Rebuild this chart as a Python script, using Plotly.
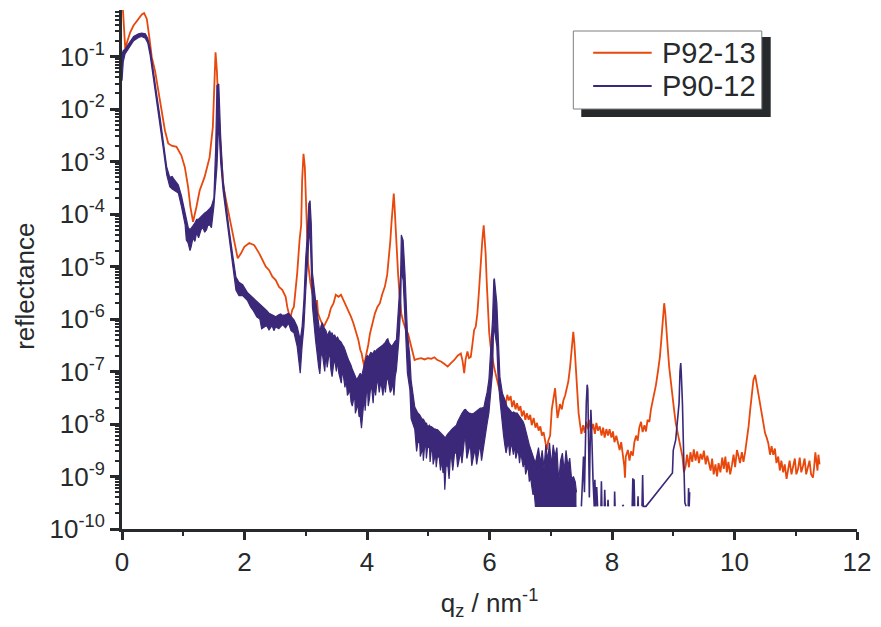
import plotly.graph_objects as go

# ---------------- data ----------------
# P92-13 : q_z [1/nm] and reflectance
p92_q = [0.010, 0.035, 0.053, 0.090, 0.134, 0.188, 0.230, 0.270, 0.324, 0.361, 0.405, 0.447, 0.486, 0.539,
         0.593, 0.648, 0.701, 0.755, 0.810, 0.890, 0.970, 1.025, 1.079, 1.117, 1.160, 1.215, 1.268, 1.349,
         1.430, 1.483, 1.511, 1.527, 1.549, 1.580, 1.620, 1.657, 1.700, 1.754, 1.807, 1.862, 1.889, 1.943,
         1.997, 2.078, 2.159, 2.240, 2.300, 2.348, 2.402, 2.455, 2.510, 2.564, 2.617, 2.672, 2.698, 2.730,
         2.753, 2.780, 2.806, 2.860, 2.899, 2.925, 2.941, 2.963, 2.985, 3.006, 3.038, 3.077, 3.130, 3.170,
         3.184, 3.200, 3.239, 3.292, 3.330, 3.373, 3.410, 3.454, 3.490, 3.535, 3.575, 3.616, 3.655, 3.697,
         3.740, 3.778, 3.820, 3.859, 3.890, 3.913, 3.935, 3.956, 3.975, 3.994, 4.020, 4.049, 4.090, 4.130,
         4.170, 4.210, 4.250, 4.291, 4.330, 4.356, 4.380, 4.399, 4.420, 4.437, 4.450, 4.463, 4.485, 4.507,
         4.530, 4.560, 4.590, 4.615, 4.640, 4.669, 4.695, 4.722, 4.750, 4.777, 4.830, 4.884, 4.940, 4.993,
         5.050, 5.100, 5.150, 5.208, 5.260, 5.317, 5.370, 5.425, 5.480, 5.532, 5.560, 5.587, 5.610, 5.640,
         5.665, 5.694, 5.720, 5.749, 5.775, 5.802, 5.825, 5.846, 5.865, 5.883, 5.905, 5.920, 5.937, 5.955,
         5.976, 5.995, 6.018, 6.045, 6.073, 6.100, 6.126, 6.150, 6.180, 6.210, 6.235, 6.260, 6.290, 6.316,
         6.345, 6.370, 6.397, 6.425, 6.450, 6.478, 6.505, 6.530, 6.559, 6.585, 6.610, 6.640, 6.665, 6.690,
         6.721, 6.750, 6.775, 6.802, 6.830, 6.855, 6.883, 6.910, 6.936, 6.960, 6.990, 7.017, 7.045, 7.071,
         7.090, 7.110, 7.126, 7.150, 7.180, 7.206, 7.235, 7.260, 7.287, 7.315, 7.341, 7.368, 7.385, 7.400,
         7.415, 7.433, 7.455, 7.476, 7.500, 7.530, 7.555, 7.580, 7.611, 7.635, 7.660, 7.692, 7.720, 7.745,
         7.770, 7.800, 7.830, 7.855, 7.880, 7.908, 7.935, 7.960, 7.990, 8.016, 8.040, 8.070, 8.097, 8.125,
         8.150, 8.178, 8.200, 8.212, 8.225, 8.259, 8.285, 8.310, 8.340, 8.365, 8.393, 8.420, 8.445, 8.474,
         8.500, 8.530, 8.555, 8.580, 8.610, 8.636, 8.660, 8.690, 8.717, 8.750, 8.782, 8.805, 8.826, 8.852,
         8.870, 8.890, 8.910, 8.933, 8.960, 8.988, 9.015, 9.041, 9.070, 9.106, 9.130, 9.150, 9.175, 9.203,
         9.225, 9.257, 9.280, 9.310, 9.335, 9.365, 9.390, 9.420, 9.445, 9.474, 9.500, 9.530, 9.555, 9.581,
         9.610, 9.635, 9.660, 9.689, 9.715, 9.740, 9.770, 9.800, 9.825, 9.851, 9.875, 9.900, 9.930, 9.960,
         9.985, 10.010, 10.040, 10.067, 10.090, 10.120, 10.147, 10.175, 10.202, 10.230, 10.256, 10.285,
         10.309, 10.337, 10.360, 10.380, 10.410, 10.445, 10.470, 10.499, 10.525, 10.552, 10.580, 10.605,
         10.633, 10.660, 10.685, 10.714, 10.740, 10.765, 10.795, 10.820, 10.850, 10.876, 10.900, 10.930,
         10.957, 10.985, 11.010, 11.038, 11.065, 11.090, 11.119, 11.145, 11.170, 11.200, 11.225, 11.250,
         11.281, 11.300, 11.320, 11.336, 11.355, 11.370, 11.389]
p92_r = [1.0, 0.30, 0.14, 0.20, 0.29, 0.39, 0.45, 0.52, 0.63, 0.67, 0.52, 0.23, 0.097, 0.054,
         0.0226, 0.0094, 0.0039, 0.0022, 0.0020, 0.0019, 0.0013, 7.9e-4, 3.3e-4, 1.36e-4, 7.1e-5, 1.36e-4, 2.8e-4, 5.1e-4,
         1.2e-3, 4.5e-3, 0.030, 0.12, 0.054, 0.0071, 1.2e-3, 3.3e-4, 1.8e-4, 8.8e-5, 4.3e-5, 2.0e-5, 1.43e-5, 1.78e-5,
         2.37e-5, 2.8e-5, 2.55e-5, 1.78e-5, 1.3e-5, 9.9e-6, 8.5e-6, 6.4e-6, 5.5e-6, 4.1e-6, 3.6e-6, 2.65e-6, 1.7e-6, 1.2e-6,
         1.1e-6, 1.5e-6, 1.7e-6, 7.4e-6, 3.2e-5, 6.1e-5, 4.4e-4, 1.4e-3, 7.9e-4, 1.02e-4, 1.15e-5, 4.8e-6, 2.3e-6, 9.5e-7,
         2.3e-6, 1.3e-6, 9.6e-7, 7.1e-7, 8.5e-7, 1.1e-6, 1.6e-6, 2.0e-6, 2.9e-6, 2.65e-6, 2.9e-6, 2.3e-6, 1.9e-6, 1.48e-6,
         1.1e-6, 8.3e-7, 5.5e-7, 4.0e-7, 2.6e-7, 2.2e-7, 1.6e-7, 1.24e-7, 1.8e-7, 2.2e-7, 3.2e-7, 5.3e-7, 8.5e-7, 1.28e-6,
         1.7e-6, 2.0e-6, 3.0e-6, 4.1e-6, 7.0e-6, 1.3e-5, 3.0e-5, 6.6e-5, 1.5e-4, 2.45e-4, 1.4e-4, 6.6e-5, 2.2e-5, 7.4e-6,
         3.0e-6, 1.28e-6, 9.0e-7, 7.1e-7, 6.0e-7, 5.3e-7, 4.0e-7, 3.0e-7, 2.2e-7, 1.66e-7, 1.75e-7, 1.8e-7, 1.7e-7, 1.8e-7,
         1.75e-7, 1.87e-7, 1.65e-7, 1.55e-7, 1.4e-7, 1.24e-7, 1.45e-7, 1.66e-7, 2.0e-7, 2.2e-7, 1.6e-7, 9.3e-8, 1.7e-7, 2.4e-7,
         1.8e-7, 1.9e-7, 3.2e-7, 6.2e-7, 7.1e-7, 1.28e-6, 3.0e-6, 8.5e-6, 1.6e-5, 3.2e-5, 6.1e-5, 3.5e-5, 1.78e-5, 5.0e-6,
         1.28e-6, 5.5e-7, 3.0e-7, 1.8e-7, 1.24e-7, 9.0e-8, 6.9e-8, 5.0e-8, 3.9e-8, 2.6e-8, 3.2e-8, 2.2e-8, 3.6e-8, 2.8e-8,
         3.4e-8, 2.1e-8, 2.8e-8, 1.9e-8, 2.5e-8, 1.8e-8, 2.2e-8, 1.4e-8, 1.8e-8, 1.2e-8, 1.6e-8, 1.2e-8, 1.5e-8, 9.5e-9,
         1.3e-8, 8.5e-9, 1.05e-8, 7.5e-9, 9.0e-9, 6.0e-9, 7.0e-9, 4.5e-9, 3.2e-9, 4.8e-9, 6.0e-9, 1.9e-8, 3.0e-8, 4.8e-8,
         2.5e-8, 1.3e-8, 1.6e-8, 2.4e-8, 1.9e-8, 2.8e-8, 3.5e-8, 4.5e-8, 6.5e-8, 1.2e-7, 2.6e-7, 5.7e-7, 3.5e-7, 1.8e-7,
         7.0e-8, 2.9e-8, 1.6e-8, 1.04e-8, 6.5e-9, 9.5e-9, 6.8e-9, 1.1e-8, 8.0e-9, 1.2e-8, 7.5e-9, 1.0e-8, 6.5e-9, 1.05e-8,
         7.5e-9, 9.0e-9, 6.0e-9, 8.5e-9, 5.5e-9, 8.0e-9, 6.0e-9, 8.0e-9, 5.5e-9, 7.2e-9, 4.5e-9, 6.0e-9, 4.2e-9, 3.2e-9,
         4.5e-9, 2.8e-9, 1.6e-9, 9.5e-10, 2.4e-9, 3.2e-9, 2.0e-9, 3.0e-9, 2.5e-9, 4.5e-9, 6.0e-9, 4.8e-9, 8.5e-9, 1.1e-8,
         7.0e-9, 9.5e-9, 7.2e-9, 1.2e-8, 1.1e-8, 1.9e-8, 2.6e-8, 3.8e-8, 5.5e-8, 1.0e-7, 1.9e-7, 4.0e-7, 9.6e-7, 2.0e-6,
         1.3e-6, 7.1e-7, 2.8e-7, 1.24e-7, 6.0e-8, 3.3e-8, 1.8e-8, 1.04e-8, 7.0e-9, 5.0e-9, 3.2e-9, 2.4e-9, 1.2e-9, 1.6e-9,
         2.6e-9, 1.5e-9, 2.9e-9, 1.9e-9, 3.3e-9, 2.0e-9, 3.0e-9, 1.8e-9, 2.7e-9, 2.1e-9, 3.1e-9, 1.7e-9, 2.5e-9, 1.9e-9,
         1.3e-9, 2.2e-9, 1.1e-9, 1.7e-9, 1.0e-9, 1.8e-9, 1.2e-9, 2.3e-9, 1.4e-9, 2.4e-9, 1.2e-9, 1.9e-9, 1.1e-9, 1.7e-9,
         2.6e-9, 1.5e-9, 3.2e-9, 2.4e-9, 1.8e-9, 2.9e-9, 1.9e-9, 3.0e-9, 5.0e-9, 9.0e-9, 1.86e-8, 4.0e-8,
         6.9e-8, 8.6e-8, 6.0e-8, 3.9e-8, 2.3e-8, 1.39e-8, 9.5e-9, 6.7e-9, 5.5e-9, 4.3e-9, 2.6e-9, 3.8e-9,
         2.6e-9, 3.4e-9, 1.8e-9, 2.4e-9, 1.3e-9, 2.0e-9, 1.2e-9, 1.7e-9, 9.0e-10, 1.3e-9, 2.0e-9, 1.1e-9,
         1.7e-9, 2.2e-9, 1.1e-9, 1.4e-9, 2.3e-9, 1.2e-9, 1.6e-9, 2.2e-9, 1.1e-9, 1.5e-9, 2.0e-9, 1.1e-9,
         9.5e-10, 1.5e-9, 2.9e-9, 2.0e-9, 1.3e-9, 2.6e-9, 1.7e-9]

# P90-12 : noisy signal, given as upper and lower envelope of its noise band
p90_q = [0.000, 0.020, 0.050, 0.130, 0.190, 0.270, 0.320, 0.380, 0.420, 0.460,
         0.520, 0.570, 0.620, 0.670, 0.730, 0.780, 0.820, 0.860, 0.920, 0.970,
         1.030, 1.050, 1.080, 1.110, 1.130, 1.160, 1.190, 1.220, 1.250, 1.270,
         1.290, 1.320, 1.350, 1.380, 1.400, 1.430, 1.460, 1.500, 1.530, 1.550,
         1.580, 1.610, 1.650, 1.700, 1.750, 1.810, 1.860, 1.910, 1.970, 2.050,
         2.100, 2.150, 2.200, 2.250, 2.280, 2.330, 2.360, 2.400, 2.450, 2.480,
         2.510, 2.560, 2.590, 2.620, 2.670, 2.720, 2.760, 2.810, 2.860, 2.910,
         2.940, 2.970, 3.000, 3.020, 3.050, 3.070, 3.090, 3.110, 3.160, 3.190,
         3.210, 3.230, 3.250, 3.270, 3.290, 3.310, 3.330, 3.350, 3.370, 3.390,
         3.410, 3.430, 3.450, 3.470, 3.500, 3.520, 3.540, 3.560, 3.580, 3.600,
         3.620, 3.640, 3.660, 3.680, 3.700, 3.720, 3.740, 3.760, 3.780, 3.800,
         3.810, 3.830, 3.850, 3.870, 3.890, 3.910, 3.920, 3.940, 3.960, 3.970,
         3.990, 4.010, 4.020, 4.040, 4.060, 4.080, 4.100, 4.120, 4.140, 4.160,
         4.180, 4.200, 4.220, 4.240, 4.260, 4.280, 4.300, 4.320, 4.340, 4.360,
         4.380, 4.400, 4.420, 4.440, 4.460, 4.480, 4.520, 4.550, 4.560, 4.580,
         4.590, 4.620, 4.660, 4.700, 4.720, 4.780, 4.800, 4.810, 4.830, 4.860,
         4.870, 4.890, 4.910, 4.920, 4.940, 4.960, 4.970, 4.990, 5.020, 5.030,
         5.050, 5.070, 5.080, 5.100, 5.120, 5.130, 5.150, 5.180, 5.200, 5.220,
         5.240, 5.260, 5.270, 5.290, 5.320, 5.340, 5.360, 5.380, 5.400, 5.430,
         5.460, 5.480, 5.510, 5.530, 5.550, 5.590, 5.610, 5.630, 5.670, 5.690,
         5.710, 5.750, 5.770, 5.790, 5.830, 5.850, 5.870, 5.910, 5.930, 5.960,
         5.990, 6.020, 6.050, 6.070, 6.080, 6.120, 6.140, 6.170, 6.210, 6.230,
         6.250, 6.270, 6.290, 6.310, 6.330, 6.350, 6.370, 6.390, 6.410, 6.430,
         6.450, 6.470, 6.490, 6.510, 6.530, 6.550, 6.570, 6.590, 6.610, 6.630,
         6.650, 6.670, 6.690, 6.710, 6.730, 6.750, 6.770, 6.800, 6.830, 6.860,
         6.890, 6.920, 6.950, 6.980, 7.010, 7.040, 7.070, 7.100, 7.130, 7.160,
         7.190, 7.220, 7.250, 7.280, 7.310, 7.340, 7.370, 7.400, 7.420]
p90_upper = [0.112, 0.129, 0.138, 0.19, 0.24, 0.27, 0.28, 0.27, 0.224, 0.141,
             0.050, 0.0178, 7.1e-3, 2.6e-3, 7.9e-4, 5.0e-4, 5.2e-4, 4.4e-4, 3.55e-4, 2.24e-4,
             1.12e-4, 8.0e-5, 5.6e-5, 5.0e-5, 5.5e-5, 6.0e-5, 6.8e-5, 7.9e-5, 8.0e-5, 8.5e-5,
             9.0e-5, 1.0e-4, 1.05e-4, 1.1e-4, 1.15e-4, 1.26e-4, 1.4e-4, 2.0e-4, 1.9e-3, 0.028,
             0.030, 3.16e-3, 4.5e-4, 1.41e-4, 5.0e-5, 1.58e-5, 6.3e-6, 5.0e-6, 4.5e-6, 3.16e-6,
             2.8e-6, 2.5e-6, 2.2e-6, 2.0e-6, 1.8e-6, 1.58e-6, 1.45e-6, 1.29e-6, 1.2e-6, 1.15e-6,
             1.1e-6, 1.2e-6, 1.25e-6, 1.17e-6, 1.2e-6, 1.29e-6, 1.1e-6, 9.5e-7, 7.1e-7, 4.0e-7,
             7.1e-7, 2.3e-6, 1.5e-5, 3.16e-5, 1.58e-4, 1.8e-4, 6.6e-5, 7.4e-6, 2.3e-6, 1.2e-6,
             7.1e-7, 5.5e-7, 7.5e-7, 8.5e-7, 7.1e-7, 6.5e-7, 6.0e-7, 4.8e-7, 5.4e-7, 6.0e-7,
             5.0e-7, 5.5e-7, 4.6e-7, 5.0e-7, 4.2e-7, 4.5e-7, 4.0e-7, 3.8e-7, 3.6e-7, 3.2e-7,
             3.0e-7, 2.6e-7, 2.3e-7, 1.9e-7, 1.66e-7, 1.5e-7, 1.3e-7, 1.1e-7, 9.3e-8, 8.5e-8,
             8.0e-8, 6.9e-8, 7.5e-8, 8.5e-8, 9.3e-8, 7.9e-8, 9.0e-8, 1.23e-7, 1.5e-7, 1.6e-7,
             1.9e-7, 2.0e-7, 1.8e-7, 2.0e-7, 2.3e-7, 2.24e-7, 2.2e-7, 2.5e-7, 2.4e-7, 2.6e-7,
             2.7e-7, 2.8e-7, 2.9e-7, 3.0e-7, 3.2e-7, 3.4e-7, 3.6e-7, 4.0e-7, 4.2e-7, 3.5e-7,
             3.2e-7, 3.0e-7, 3.2e-7, 3.6e-7, 3.8e-7, 4.0e-7, 2.3e-6, 7.4e-6, 4.0e-5, 3.55e-5,
             3.16e-5, 7.4e-6, 5.4e-7, 1.9e-7, 6.9e-8, 2.1e-8, 1.9e-8, 1.8e-8, 1.62e-8, 1.5e-8,
             1.4e-8, 1.3e-8, 1.2e-8, 1.25e-8, 1.12e-8, 1.0e-8, 1.05e-8, 8.9e-9, 9.5e-9, 9.0e-9,
             8.9e-9, 8.5e-9, 8.2e-9, 8.0e-9, 8.0e-9, 7.8e-9, 7.8e-9, 7.2e-9, 7.0e-9, 6.5e-9,
             6.2e-9, 5.8e-9, 5.0e-9, 5.8e-9, 6.5e-9, 7.0e-9, 7.5e-9, 7.8e-9, 8.2e-9, 8.9e-9,
             9.5e-9, 1.1e-8, 1.3e-8, 1.4e-8, 1.6e-8, 1.86e-8, 1.9e-8, 1.75e-8, 1.6e-8, 1.6e-8,
             1.55e-8, 1.62e-8, 1.7e-8, 1.8e-8, 1.9e-8, 2.0e-8, 2.0e-8, 2.1e-8, 2.8e-8, 4.0e-8,
             6.9e-8, 2.24e-7, 1.0e-6, 5.5e-6, 5.9e-6, 2.0e-6, 6.2e-7, 7.9e-8, 3.9e-8, 3.3e-8,
             2.8e-8, 2.5e-8, 2.1e-8, 2.0e-8, 1.9e-8, 1.75e-8, 1.62e-8, 1.7e-8, 1.65e-8, 1.6e-8,
             1.62e-8, 1.5e-8, 1.4e-8, 1.3e-8, 1.2e-8, 1.1e-8, 9.5e-9, 7.5e-9, 5.8e-9, 5.0e-9,
             4.0e-9, 3.4e-9, 2.8e-9, 2.4e-9, 2.1e-9, 1.82e-9, 2.4e-9, 3.55e-9, 1.78e-9, 3.16e-9,
             1.41e-9, 4.0e-9, 2.0e-9, 4.4e-9, 1.58e-9, 4.0e-9, 2.4e-9, 3.55e-9, 7.9e-10, 2.0e-9,
             2.8e-9, 1.26e-9, 3.16e-9, 1.58e-9, 2.24e-9, 8.9e-10, 1.0e-9, 7.9e-10, 5.0e-10]
p90_lower = [0.0347, 0.079, 0.112, 0.158, 0.20, 0.23, 0.24, 0.224, 0.182, 0.105,
             0.0355, 0.0126, 5.2e-3, 1.9e-3, 5.6e-4, 3.3e-4, 3.0e-4, 2.8e-4, 2.5e-4, 1.41e-4,
             6.3e-5, 3.2e-5, 2.8e-5, 2.0e-5, 2.4e-5, 3.55e-5, 3.0e-5, 4.5e-5, 3.5e-5, 4.2e-5,
             5.0e-5, 5.6e-5, 4.5e-5, 5.0e-5, 6.0e-5, 6.3e-5, 5.5e-5, 1.41e-4, 4.0e-4, 7.9e-4,
             6.3e-3, 1.0e-3, 2.8e-4, 1.0e-4, 3.55e-5, 1.0e-5, 3.55e-6, 2.8e-6, 2.8e-6, 2.24e-6,
             1.7e-6, 1.41e-6, 1.1e-6, 1.0e-6, 6.5e-7, 7.1e-7, 7.5e-7, 6.2e-7, 7.5e-7, 6.0e-7,
             7.1e-7, 6.5e-7, 7.2e-7, 7.8e-7, 6.8e-7, 8.3e-7, 6.0e-7, 5.4e-7, 3.0e-7, 9.3e-8,
             3.0e-7, 7.1e-7, 3.55e-6, 1.0e-5, 3.16e-5, 5.0e-5, 5.5e-6, 1.7e-6, 4.0e-7, 1.6e-7,
             1.23e-7, 9.0e-8, 2.0e-7, 2.2e-7, 1.41e-7, 1.0e-7, 2.2e-7, 1.2e-7, 1.78e-7, 2.5e-7,
             1.1e-7, 8.0e-8, 1.23e-7, 1.8e-7, 1.0e-7, 1.6e-7, 9.3e-8, 7.5e-8, 6.0e-8, 1.1e-7,
             6.9e-8, 5.0e-8, 7.0e-8, 3.5e-8, 3.9e-8, 4.5e-8, 2.6e-8, 2.2e-8, 2.9e-8, 3.2e-8,
             1.6e-8, 2.0e-8, 2.4e-8, 1.4e-8, 1.38e-8, 8.3e-9, 1.2e-8, 2.1e-8, 3.0e-8, 1.8e-8,
             3.9e-8, 4.5e-8, 2.2e-8, 3.0e-8, 5.0e-8, 4.5e-8, 2.5e-8, 5.5e-8, 3.5e-8, 6.0e-8,
             6.5e-8, 4.0e-8, 6.0e-8, 5.1e-8, 3.5e-8, 6.5e-8, 4.0e-8, 6.9e-8, 7.5e-8, 5.0e-8,
             4.0e-8, 4.5e-8, 6.5e-8, 3.5e-8, 8.0e-8, 1.07e-7, 4.0e-7, 1.7e-6, 1.0e-5, 6.3e-6,
             5.5e-6, 1.0e-6, 9.3e-8, 4.5e-8, 1.26e-8, 7.9e-9, 5.0e-9, 3.0e-9, 4.4e-9, 4.5e-9,
             2.4e-9, 3.0e-9, 3.5e-9, 2.0e-9, 3.7e-9, 3.8e-9, 2.2e-9, 3.7e-9, 3.5e-9, 1.9e-9,
             3.16e-9, 3.0e-9, 1.7e-9, 2.2e-9, 2.6e-9, 1.5e-9, 2.4e-9, 2.3e-9, 1.3e-9, 2.1e-9,
             1.2e-9, 1.17e-9, 5.6e-10, 1.58e-9, 1.6e-9, 9.0e-10, 2.2e-9, 2.3e-9, 1.3e-9, 2.8e-9,
             2.8e-9, 1.5e-9, 2.5e-9, 3.0e-9, 1.8e-9, 5.0e-9, 5.0e-9, 2.2e-9, 3.5e-9, 3.6e-9,
             1.6e-9, 2.8e-9, 3.0e-9, 1.7e-9, 3.3e-9, 3.6e-9, 2.0e-9, 4.4e-9, 6.0e-9, 1.0e-8,
             1.62e-8, 5.1e-8, 1.0e-7, 9.5e-7, 6.3e-7, 3.0e-7, 7.9e-8, 2.9e-8, 8.9e-9, 6.0e-9,
             4.0e-9, 2.8e-9, 3.7e-9, 4.5e-9, 2.5e-9, 4.0e-9, 3.7e-9, 2.6e-9, 4.0e-9, 2.2e-9,
             2.8e-9, 3.2e-9, 1.8e-9, 2.8e-9, 2.1e-9, 1.5e-9, 2.2e-9, 1.1e-9, 1.35e-9, 1.5e-9,
             8.0e-10, 1.0e-9, 6.5e-10, 4.5e-10, 5.0e-10, 2.7e-10, 2.7e-10, 2.7e-10, 2.7e-10, 2.7e-10,
             2.7e-10, 2.7e-10, 2.7e-10, 2.7e-10, 2.7e-10, 2.7e-10, 2.7e-10, 2.7e-10, 2.7e-10, 2.7e-10,
             2.7e-10, 2.7e-10, 2.7e-10, 2.7e-10, 2.7e-10, 2.7e-10, 2.7e-10, 2.7e-10, 2.7e-10]

# P90-12 beyond q = 7.45: sparse points (None = no data)
p90_tail_q = [7.500, 7.520, 7.535, 7.550, 7.565, 7.580, 7.595, 7.605, 7.615, 7.630, 7.640, 7.655, 7.665, 7.675,
              7.690, 7.710, 7.720, 7.735, 7.750, 7.765, None,
              7.820, 7.827, 7.835, None, 7.875, 7.881, 7.890, None, 7.930, 7.935, 7.940, None,
              8.040, 8.043, 8.050, None, 8.170, 8.190, None,
              8.330, 8.340, 8.350, 8.360, 8.370, None, 8.420, 8.425, 8.430, None,
              8.490, 8.500, 8.510, 8.555, 8.987, 9.000, 9.040, 9.070, 9.095, 9.110, 9.122, 9.130, 9.150,
              9.170, 9.190, 9.210, None, 9.245, 9.250, 9.260, 9.268]
p90_tail_r = [2.7e-10, 1.26e-9, 2.4e-9, 5.0e-10, 5.0e-9, 2.5e-8, 5.6e-8, 4.5e-8, 7.9e-9, 4.0e-10, 2.5e-9, 1.86e-8, 1.0e-8, 1.58e-9,
              8.7e-10, 2.7e-10, 8.7e-10, 2.7e-10, 6.3e-10, 2.7e-10, None,
              2.7e-10, 8.1e-10, 2.7e-10, None, 2.7e-10, 5.6e-10, 2.7e-10, None, 2.7e-10, 3.6e-10, 2.7e-10, None,
              2.7e-10, 5.2e-10, 2.7e-10, None, 2.7e-10, 2.9e-10, None,
              2.7e-10, 9.3e-10, 2.7e-10, 8.9e-10, 2.7e-10, None, 2.7e-10, 4.2e-10, 2.7e-10, None,
              2.7e-10, 1.07e-9, 2.7e-10, 2.7e-10, 1.17e-9, 3.16e-9, 5.0e-9, 1.26e-8, 2.5e-8, 1.0e-7, 1.45e-7, 1.0e-7, 2.5e-8,
              2.5e-9, 3.16e-10, 2.7e-10, None, 2.7e-10, 6.0e-10, 2.7e-10, 5.0e-10]

series_names = ["P92-13", "P90-12"]
x_tick_vals = [0, 2, 4, 6, 8, 10, 12]
y_exponents = [-1, -2, -3, -4, -5, -6, -7, -8, -9, -10]

assert len(p92_q) == len(p92_r)
assert len(p90_q) == len(p90_upper) == len(p90_lower)
assert len(p90_tail_q) == len(p90_tail_r)

# ---------------- style ----------------
ORANGE = "#E8480C"
PURPLE = "#3B2878"
AX = "#262A2C"
FONT = "Liberation Sans, Arial, Helvetica, sans-serif"

fig = go.Figure()

fig.add_trace(go.Scatter(x=p92_q, y=p92_r, mode="lines", name=series_names[0],
                         line=dict(color=ORANGE, width=1.8), showlegend=False))
fig.add_trace(go.Scatter(x=p90_q, y=p90_lower, mode="lines", name=series_names[1],
                         line=dict(color=PURPLE, width=1.2), showlegend=False))
fig.add_trace(go.Scatter(x=p90_q, y=p90_upper, mode="lines", name=series_names[1],
                         line=dict(color=PURPLE, width=1.2), fill="tonexty", fillcolor=PURPLE,
                         showlegend=False))
fig.add_trace(go.Scatter(x=p90_tail_q, y=p90_tail_r, mode="lines", name=series_names[1],
                         line=dict(color=PURPLE, width=1.6), connectgaps=False, showlegend=False))

# geometry of plot area (pixels)
W, H = 881, 627
ML, MR, MT, MB = 122, 18, 10, 98
PW, PH = W - ML - MR, H - MT - MB


def px(xp):
    return (xp - ML) / PW


def py(yp):
    return 1 - (yp - MT) / PH


minor_y = [m * 10.0 ** e for e in range(-10, 0) for m in range(2, 10)]

fig.update_layout(
    width=W, height=H,
    margin=dict(l=ML, r=MR, t=MT, b=MB),
    paper_bgcolor="white", plot_bgcolor="white",
    font=dict(family=FONT, size=26, color=AX),
    xaxis=dict(
        range=[0, 12], showgrid=False, zeroline=False,
        showline=True, linecolor=AX, linewidth=3,
        tickmode="array", tickvals=x_tick_vals, ticktext=[str(v) for v in x_tick_vals],
        ticks="outside", ticklen=8, tickwidth=3, tickcolor=AX,
        tickfont=dict(family=FONT, size=26, color=AX),
        minor=dict(dtick=1, tick0=0, ticks="outside", ticklen=4, tickwidth=2, tickcolor=AX),
        title=dict(text="q<sub>z</sub> / nm<sup>-1</sup>", font=dict(family=FONT, size=26, color=AX), standoff=18),
    ),
    yaxis=dict(
        type="log", range=[-10, -0.114], showgrid=False, zeroline=False,
        showline=True, linecolor=AX, linewidth=3,
        tickmode="array", tickvals=[10.0 ** e for e in y_exponents],
        ticktext=["10<sup>%d</sup>" % e for e in y_exponents],
        ticks="outside", ticklen=9, tickwidth=3, tickcolor=AX,
        tickfont=dict(family=FONT, size=26, color=AX),
        minor=dict(tickvals=minor_y, ticks="outside", ticklen=4, tickwidth=2, tickcolor=AX),
    ),
)

# y axis title
fig.add_annotation(text="reflectance", xref="paper", yref="paper", x=px(24), y=py(286),
                   textangle=-90, showarrow=False, xanchor="center", yanchor="middle",
                   font=dict(family=FONT, size=26, color=AX))

# legend (box with drop shadow)
fig.add_shape(type="rect", xref="paper", yref="paper", x0=px(585), x1=px(776), y0=py(117), y1=py(37),
              fillcolor=AX, line=dict(width=0))
fig.add_shape(type="rect", xref="paper", yref="paper", x0=px(577), x1=px(767), y0=py(109), y1=py(31),
              fillcolor="white", line=dict(color="#7F7F7F", width=1))
fig.add_shape(type="line", xref="paper", yref="paper", x0=px(597), x1=px(656), y0=py(52.7), y1=py(52.7),
              line=dict(color=ORANGE, width=2))
fig.add_shape(type="line", xref="paper", yref="paper", x0=px(597), x1=px(656), y0=py(86), y1=py(86),
              line=dict(color=PURPLE, width=2))
for name, yp in zip(series_names, [53, 86]):
    fig.add_annotation(text=name, xref="paper", yref="paper", x=px(664), y=py(yp),
                       showarrow=False, xanchor="left", yanchor="middle",
                       font=dict(family=FONT, size=29, color=AX))

fig.write_html("out.html")
